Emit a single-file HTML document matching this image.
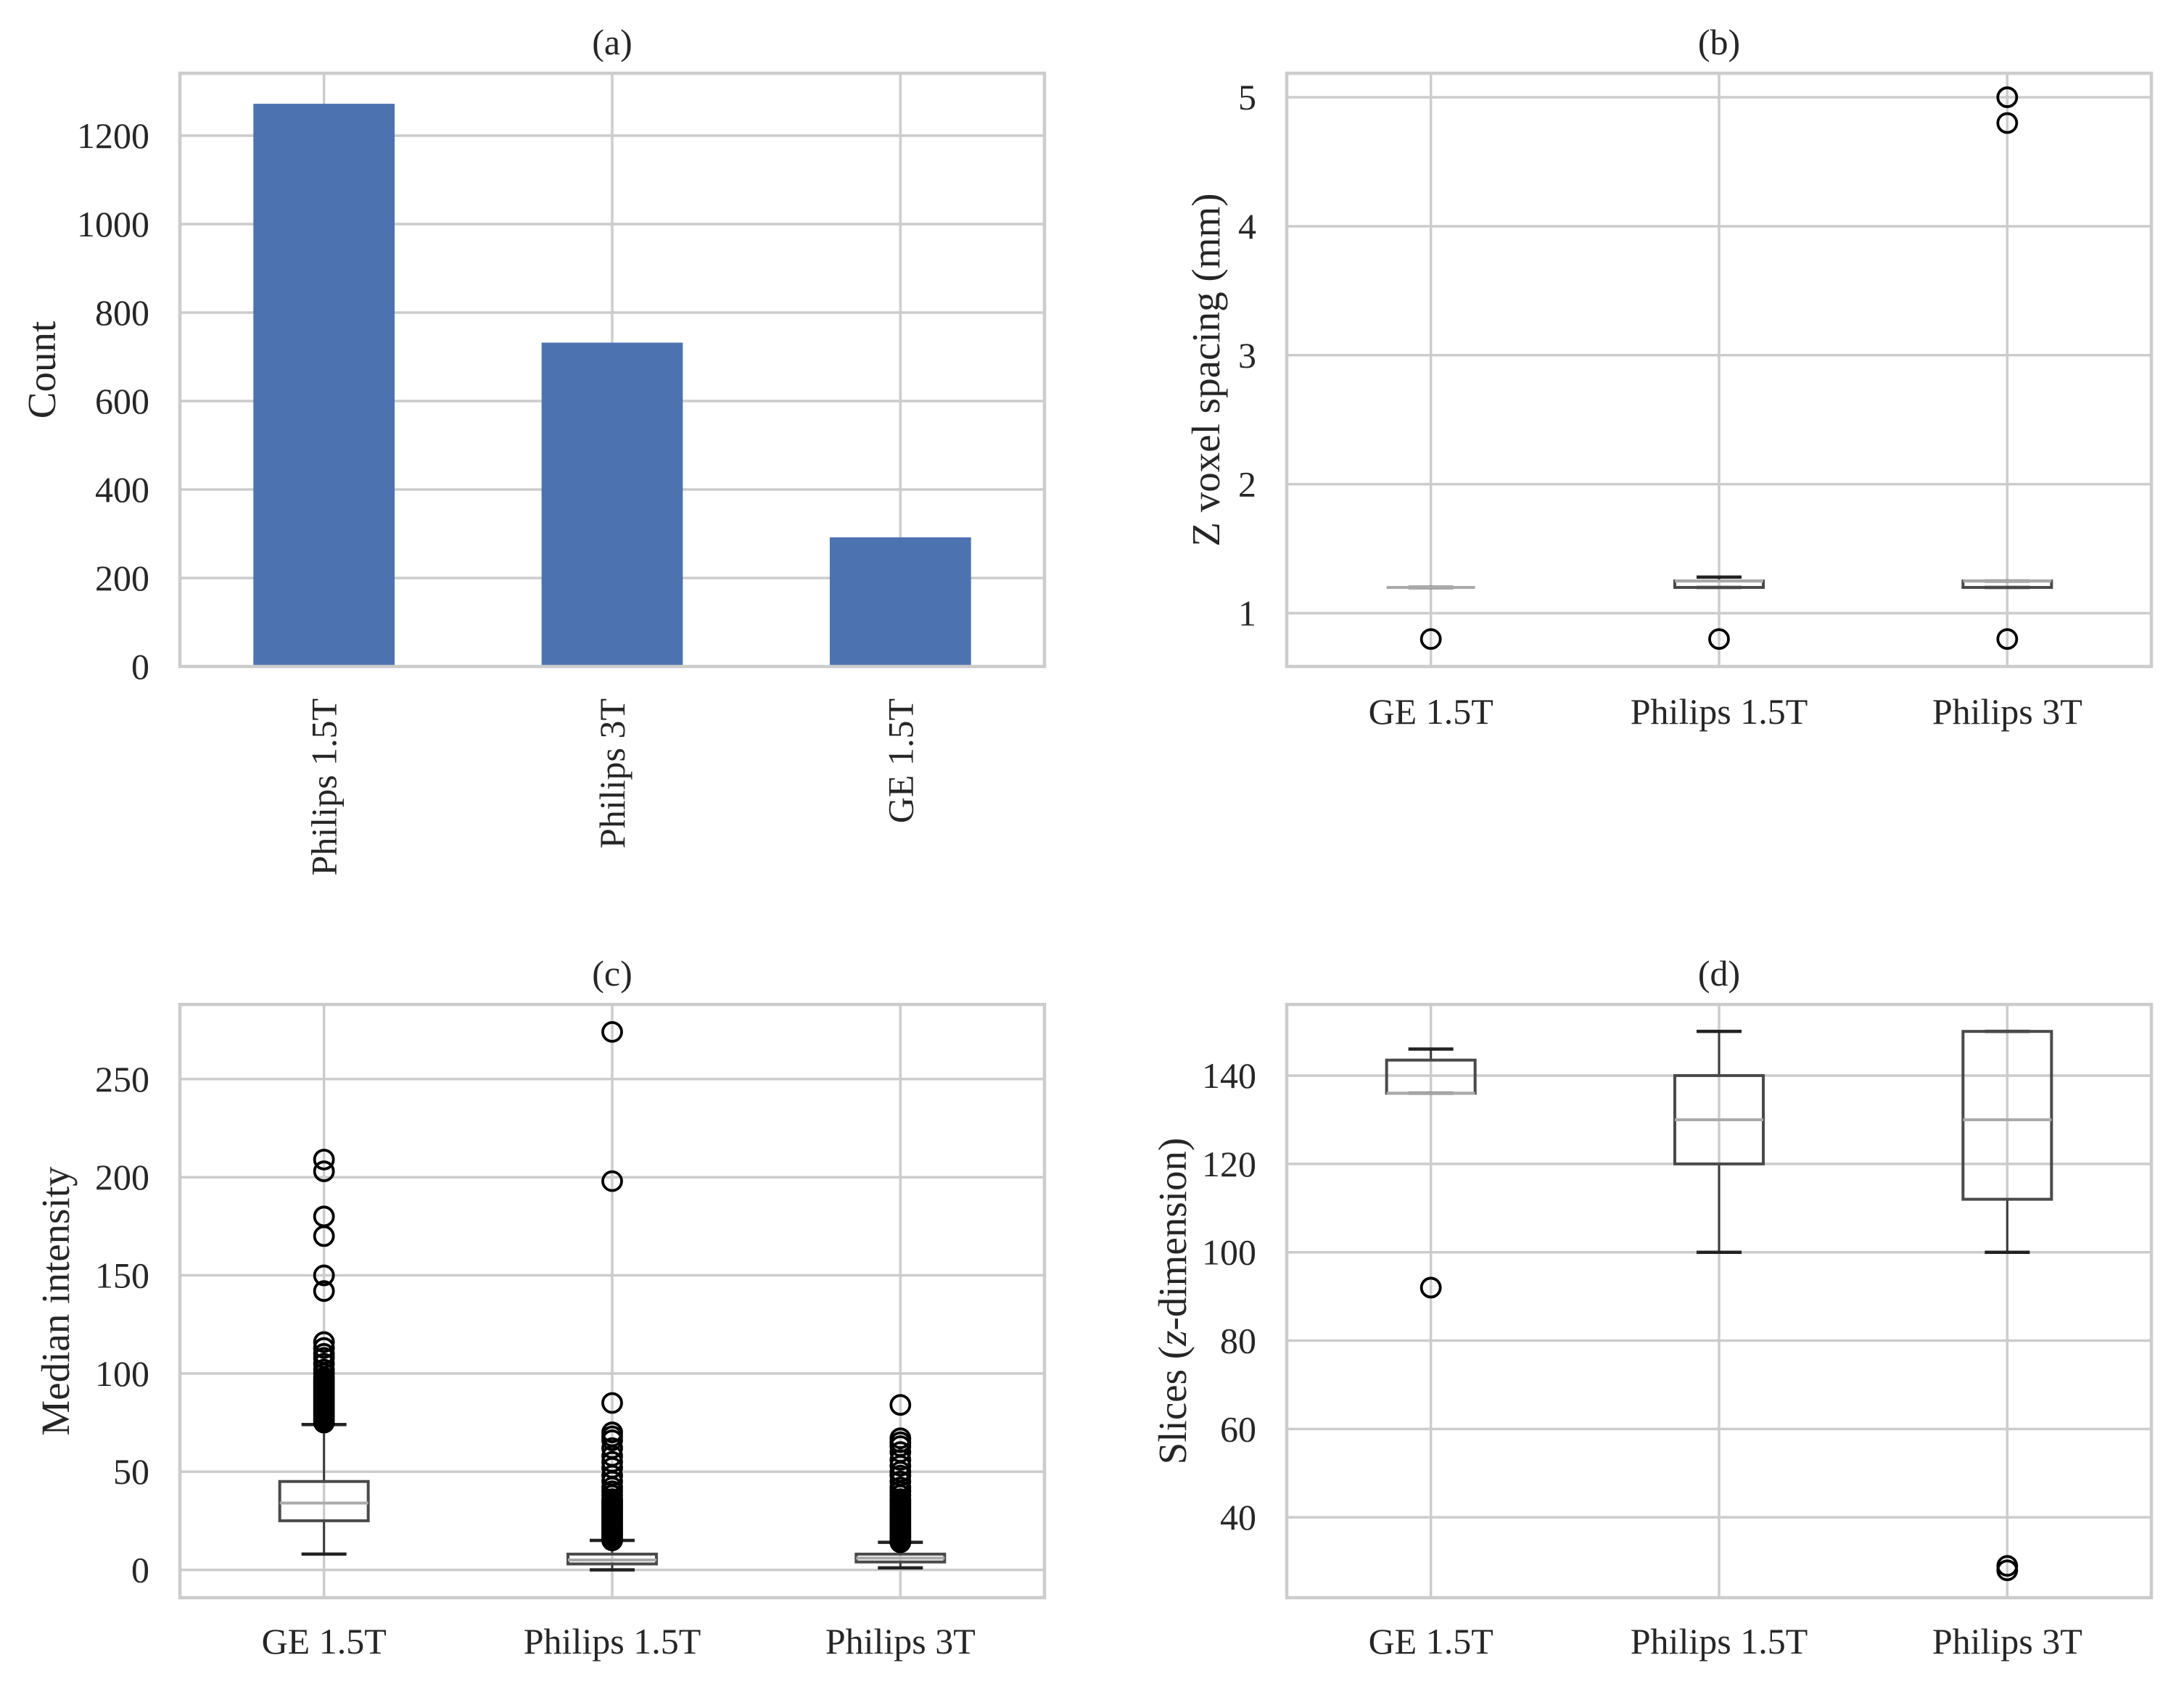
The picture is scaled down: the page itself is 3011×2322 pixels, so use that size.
<!DOCTYPE html>
<html><head><meta charset="utf-8"><style>
html,body{margin:0;padding:0;background:#fff}
svg{display:block}
text{font-family:"Liberation Serif",serif;fill:#262626}
</style></head><body>
<svg id="fig" width="3011" height="2322" viewBox="0 0 3011 2322" xmlns="http://www.w3.org/2000/svg"></svg>
<script>
// ---- data ----
const barCategories = ["Philips 1.5T", "Philips 3T", "GE 1.5T"];
const barCounts = [1272, 732, 292];
const barTicks = [0, 200, 400, 600, 800, 1000, 1200];

const boxCategories = ["GE 1.5T", "Philips 1.5T", "Philips 3T"];

// (b) Z voxel spacing: [whiskerLow, q1, median, q3, whiskerHigh]
const spacingStats = [[1.2, 1.2, 1.2, 1.2, 1.2], [1.2, 1.2, 1.25, 1.25, 1.28], [1.2, 1.2, 1.25, 1.25, 1.25]];
const spacingOutliers = [[0.8], [0.8], [0.8, 4.8, 5.0]];
const spacingTicks = [1, 2, 3, 4, 5];

// (c) Median intensity
const intensityStats = [[8, 25, 34, 45, 74], [0, 3, 5, 8, 15], [1, 4, 6, 8, 14]];
const intensityOutliers = [
  [75, 76, 77, 78, 79, 80, 81, 82, 83, 84, 85, 86, 87, 88, 89, 90, 91, 92, 93, 94, 95, 96, 97, 98, 100, 102, 105, 108, 110, 113, 116, 142, 150, 170, 180, 203, 209],
  [15, 16, 17, 18, 19, 20, 21, 22, 23, 24, 25, 26, 27, 28, 29, 30, 31, 32, 33, 34, 35, 36, 38, 40, 42, 45, 48, 52, 55, 58, 62, 66, 68, 70, 85, 198, 274],
  [14, 15, 16, 17, 18, 19, 20, 21, 22, 23, 24, 25, 26, 27, 28, 29, 30, 31, 32, 33, 34, 35, 36, 38, 40, 42, 45, 48, 50, 53, 56, 60, 63, 65, 67, 84]
];
const intensityTicks = [0, 50, 100, 150, 200, 250];

// (d) Slices
const sliceStats = [[136, 136, 136, 143.5, 146], [100, 120, 130, 140, 150], [100, 112, 130, 150, 150]];
const sliceOutliers = [[92], [], [28, 29]];
const sliceTicks = [40, 60, 80, 100, 120, 140];

// ---- drawing ----
const svg = document.getElementById('fig');
const NS = 'http://www.w3.org/2000/svg';
function mk(tag, attrs, parent) {
  const e = document.createElementNS(NS, tag);
  for (const k in attrs) e.setAttribute(k, attrs[k]);
  (parent || svg).appendChild(e);
  return e;
}
function linScale(d0, d1, r0, r1) { return v => r0 + (v - d0) / (d1 - d0) * (r1 - r0); }

function frame(g, L, R, T, B, title, ylabel, ylabelX, yTicks, y, xs, cats, rotated, labelsY) {
  const t = mk('text', {x: (L + R) / 2, y: T - 26, 'text-anchor': 'middle', 'font-size': 50}, g);
  t.textContent = title;
  
  
  yTicks.forEach(v => {
    const gl = mk('line', {x1: L, x2: R, y1: y(v), y2: y(v), stroke: '#cccccc', 'stroke-width': 3.5}, g);
    
    
    const tl = mk('text', {x: L - 42, y: y(v) + 17, 'text-anchor': 'end', 'font-size': 50}, g);
    tl.textContent = v;
    
    
  });
  xs.forEach((x, i) => {
    const gl = mk('line', {x1: x, x2: x, y1: T, y2: B, stroke: '#cccccc', 'stroke-width': 3.5}, g);
    
    
    let tl;
    if (rotated) {
      tl = mk('text', {x: 0, y: 0, 'text-anchor': 'end', 'font-size': 50, transform: `translate(${x + 17},${labelsY}) rotate(-90)`}, g);
    } else {
      tl = mk('text', {x: x, y: labelsY, 'text-anchor': 'middle', 'font-size': 50}, g);
    }
    tl.textContent = cats[i];
    
    
  });
  const yl = mk('text', {x: 0, y: 0, 'text-anchor': 'middle', 'font-size': 55, transform: `translate(${ylabelX},${(T + B) / 2}) rotate(-90)`}, g);
  yl.innerHTML = ylabel;
  
  
}
function spines(g, L, R, T, B) {
  const r = mk('rect', {x: L, y: T, width: R - L, height: B - T, fill: 'none', stroke: '#cccccc', 'stroke-width': 4.5}, g);
  
  
}

// Panel (a)
(function () {
  const L = 248, R = 1440, T = 101, B = 919;
  const g = mk('g', {});
  
  
  const step = (R - L) / barCategories.length;
  const x = i => L + step * (i + 0.5);
  const y = linScale(0, 1341, B, T);
  frame(g, L, R, T, B, '(a)', 'Count', 76, barTicks, y, barCategories.map((c, i) => x(i)), barCategories, true, 963);
  barCounts.forEach((v, i) => {
    const b = mk('rect', {x: x(i) - step * 0.245, y: y(v), width: step * 0.49, height: B - y(v), fill: '#4c72b0'}, g);
    
    
  });
  spines(g, L, R, T, B);
})();

function boxPanel(name, L, R, T, B, title, ylabel, ylabelX, ymin, ymax, ticks, stats, outliers, labelsY) {
  const g = mk('g', {});
  
  
  const step = (R - L) / boxCategories.length;
  const x = i => L + step * (i + 0.5);
  const y = linScale(ymin, ymax, B, T);
  frame(g, L, R, T, B, title, ylabel, ylabelX, ticks, y, boxCategories.map((c, i) => x(i)), boxCategories, false, labelsY);
  const hw = 61, cw = 31;
  stats.forEach((s, i) => {
    const cx = x(i);
    const bg = mk('g', {}, g);
    
    
    mk('line', {x1: cx, x2: cx, y1: y(s[0]), y2: y(s[1]), stroke: '#3c3c3c', 'stroke-width': 3}, bg);
    mk('line', {x1: cx, x2: cx, y1: y(s[3]), y2: y(s[4]), stroke: '#3c3c3c', 'stroke-width': 3}, bg);
    mk('line', {x1: cx - cw, x2: cx + cw, y1: y(s[0]), y2: y(s[0]), stroke: '#222', 'stroke-width': 4.5}, bg);
    mk('line', {x1: cx - cw, x2: cx + cw, y1: y(s[4]), y2: y(s[4]), stroke: '#222', 'stroke-width': 4.5}, bg);
    mk('rect', {x: cx - hw, y: y(s[3]), width: hw * 2, height: Math.max(0, y(s[1]) - y(s[3])), fill: 'none', stroke: '#4a4a4a', 'stroke-width': 4}, bg);
    mk('line', {x1: cx - hw, x2: cx + hw, y1: y(s[2]), y2: y(s[2]), stroke: '#aaaaaa', 'stroke-width': 4}, bg);
    outliers[i].forEach(v => {
      const c = mk('circle', {cx: cx, cy: y(v), r: 13, fill: 'none', stroke: '#000', 'stroke-width': 3.8}, bg);
      
      
    });
  });
  spines(g, L, R, T, B);
}
boxPanel('panel-b-boxplot', 1774, 2966, 101, 919, '(b)', 'Z voxel spacing (mm)', 1681, 0.587, 5.186, spacingTicks, spacingStats, spacingOutliers, 998);
boxPanel('panel-c-boxplot', 248, 1440, 1385, 2203, '(c)', 'Median intensity', 95, -14.2, 288, intensityTicks, intensityStats, intensityOutliers, 2280);
boxPanel('panel-d-boxplot', 1774, 2966, 1385, 2203, '(d)', 'Slices (<tspan font-style="italic">z</tspan>-dimension)', 1635, 21.8, 156.1, sliceTicks, sliceStats, sliceOutliers, 2280);
</script>
</body></html>
